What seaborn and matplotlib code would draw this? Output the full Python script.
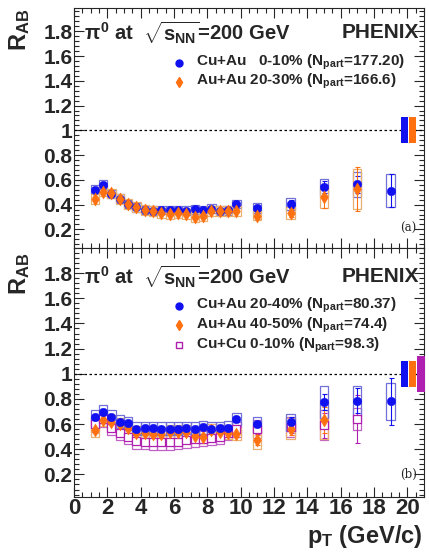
import numpy as np
import pandas as pd
import seaborn as sns
import matplotlib
matplotlib.use('Agg')
import matplotlib.pyplot as plt
from matplotlib.patches import Rectangle
from matplotlib.ticker import MultipleLocator, FixedLocator

# ---- data ----
pt_low = [1.25, 1.75, 2.25, 2.75, 3.25, 3.75, 4.25, 4.75, 5.25, 5.75,
          6.25, 6.75, 7.25, 7.75, 8.25, 8.75, 9.25, 9.75]
pt_high = [11, 13, 15, 17, 19]

# panel (a)
pt_cuau010 = pt_low + pt_high
raa_cuau010 = [0.522, 0.560, 0.485, 0.447, 0.406, 0.378, 0.358, 0.352, 0.356, 0.356,
               0.356, 0.352, 0.362, 0.355, 0.368, 0.352, 0.354, 0.405,
               0.375, 0.405, 0.540, 0.563, 0.514]
stat_cuau010 = [0.01] * 18 + [0.02, 0.03, 0.05, 0.07, 0.13]
sys_cuau010 = [0.035] * 18 + [0.04, 0.045, 0.07, 0.10, 0.13]

pt_auau2030 = pt_low + pt_high[:4]
raa_auau2030 = [0.447, 0.506, 0.490, 0.447, 0.402, 0.380, 0.358, 0.345, 0.330, 0.325,
                0.333, 0.325, 0.298, 0.306, 0.348, 0.345, 0.350, 0.350,
                0.312, 0.332, 0.460, 0.528]
stat_auau2030 = [0.012] * 18 + [0.025, 0.03, 0.09, 0.18]
sys_auau2030 = [0.04] * 18 + [0.04, 0.045, 0.085, 0.16]

# panel (b)
pt_cuau2040 = pt_low + pt_high
raa_cuau2040 = [0.660, 0.700, 0.660, 0.620, 0.605, 0.565, 0.570, 0.570, 0.565, 0.565,
                0.565, 0.570, 0.565, 0.574, 0.565, 0.568, 0.572, 0.640,
                0.597, 0.613, 0.776, 0.786, 0.780]
stat_cuau2040 = [0.015] * 18 + [0.03, 0.04, 0.065, 0.10, 0.19]
sys_cuau2040 = [0.05] * 18 + [0.06, 0.07, 0.13, 0.12, 0.15]

pt_auau4050 = pt_low + pt_high[:3]
raa_auau4050 = [0.550, 0.632, 0.620, 0.597, 0.570, 0.533, 0.533, 0.525, 0.520, 0.540,
                0.540, 0.540, 0.506, 0.500, 0.550, 0.540, 0.533, 0.520,
                0.472, 0.565, 0.632]
stat_auau4050 = [0.02] * 18 + [0.04, 0.05, 0.10]
sys_auau4050 = [0.05] * 18 + [0.07, 0.08, 0.15]

pt_cucu010 = pt_low + pt_high[:4]
raa_cucu010 = [0.600, 0.640, 0.570, 0.530, 0.500, 0.465, 0.460, 0.455, 0.455, 0.455,
               0.460, 0.470, 0.480, 0.485, 0.490, 0.500, 0.530, 0.560,
               0.560, 0.580, 0.590, 0.640]
stat_cucu010 = [0.02] * 18 + [0.04, 0.05, 0.10, 0.19]
sys_cucu010 = [0.06] * 18 + [0.07, 0.08, 0.12, 0.09]

# global normalization uncertainties (drawn at right edge)
norm_a = [0.105, 0.105]
norm_b = [0.105, 0.105, 0.145]

# ---- style ----
sns.set_style('ticks')
plt.rcParams['font.family'] = ['Liberation Sans', 'DejaVu Sans']
plt.rcParams['font.weight'] = 'bold'
plt.rcParams['mathtext.fontset'] = 'custom'
plt.rcParams['mathtext.rm'] = 'Liberation Sans:bold'
plt.rcParams['mathtext.it'] = 'Liberation Sans:bold'
plt.rcParams['mathtext.bf'] = 'Liberation Sans:bold'

BLUE = '#1010f0'
ORANGE = '#ff7010'
PURPLE = '#b020b0'
BLUE_BOX = '#7070d8'
ORANGE_BOX = '#eab070'
PURPLE_BOX = '#c060c8'

fig = plt.figure(figsize=(4.29, 5.56), dpi=100)
ax_a = fig.add_axes([0.1725, 0.554, 0.8155, 0.432])
ax_b = fig.add_axes([0.1725, 0.106, 0.8155, 0.448])


def draw_series(ax, pt, raa, stat, sysu, color, boxcolor, marker, size, filled=True):
    for x, y, s in zip(pt, raa, sysu):
        ax.add_patch(Rectangle((x - 0.25, y - s), 0.5, 2 * s, fill=False,
                               edgecolor=boxcolor, lw=0.9, zorder=2))
    ax.errorbar(pt, raa, yerr=stat, fmt='none', ecolor=color, elinewidth=0.8,
                capsize=1.8, capthick=0.8, zorder=3)
    df = pd.DataFrame({'pt': pt, 'raa': raa})
    if filled:
        sns.scatterplot(data=df, x='pt', y='raa', ax=ax, color=color, marker=marker,
                        s=size, edgecolor=color, linewidth=0.3, zorder=4, legend=False)
    else:
        sns.scatterplot(data=df, x='pt', y='raa', ax=ax, marker=marker, s=size,
                        facecolor='white', edgecolor=color, linewidth=0.9,
                        zorder=4, legend=False)


def style_axis(ax, ylim, show_x):
    ax.set_xlim(0, 21)
    ax.set_ylim(*ylim)
    ax.xaxis.set_major_locator(MultipleLocator(2))
    ax.xaxis.set_minor_locator(MultipleLocator(0.5))
    yt = [0.2, 0.4, 0.6, 0.8, 1.0, 1.2, 1.4, 1.6, 1.8]
    ax.yaxis.set_major_locator(FixedLocator(yt))
    ax.yaxis.set_minor_locator(MultipleLocator(0.04))
    ax.set_yticklabels(['0.2', '0.4', '0.6', '0.8', '1', '1.2', '1.4', '1.6', '1.8'],
                       fontsize=15, fontweight='bold')
    ax.tick_params(which='both', direction='in', top=True, right=True, width=0.8)
    ax.tick_params(which='major', length=7, pad=1)
    ax.tick_params(which='minor', length=3.5)
    ax.tick_params(axis='x', labelsize=16)
    if not show_x:
        ax.set_xticklabels([])
    ax.set_xlabel('')
    ax.set_ylabel('')
    for sp in ax.spines.values():
        sp.set_linewidth(0.8)
    ax.axhline(1.0, color='black', ls=(0, (2, 2)), lw=0.9, zorder=1)


def norm_boxes(ax, halves, colors):
    for i, (h, c) in enumerate(zip(halves, colors)):
        ax.add_patch(Rectangle((19.6 + 0.5 * i, 1 - h), 0.45, 2 * h, color=c,
                               clip_on=False, zorder=5, lw=0))


# panel (a)
draw_series(ax_a, pt_cuau010, raa_cuau010, stat_cuau010, sys_cuau010,
            BLUE, BLUE_BOX, 'o', 38)
draw_series(ax_a, pt_auau2030, raa_auau2030, stat_auau2030, sys_auau2030,
            ORANGE, ORANGE_BOX, 'd', 45)
style_axis(ax_a, (0.05, 1.99), False)
norm_boxes(ax_a, norm_a, [BLUE, ORANGE])

# panel (b)
draw_series(ax_b, pt_cucu010, raa_cucu010, stat_cucu010, sys_cucu010,
            PURPLE, PURPLE_BOX, 's', 26, filled=False)
draw_series(ax_b, pt_auau4050, raa_auau4050, stat_auau4050, sys_auau4050,
            ORANGE, ORANGE_BOX, 'd', 45)
draw_series(ax_b, pt_cuau2040, raa_cuau2040, stat_cuau2040, sys_cuau2040,
            BLUE, BLUE_BOX, 'o', 38)
style_axis(ax_b, (0.02, 2.0), True)
norm_boxes(ax_b, norm_b, [BLUE, ORANGE, PURPLE])

# texts
title = r'$\pi^{0}$ at  $\sqrt{s_{NN}}$=200 GeV'
for ax, ytit in [(ax_a, 0.897), (ax_b, 0.885)]:
    ax.text(0.03, ytit, title, transform=ax.transAxes, fontsize=14.5,
            fontweight='bold', va='center', ha='left')
    ax.text(0.985, ytit, 'PHENIX', transform=ax.transAxes, fontsize=15,
            fontweight='bold', va='center', ha='right')

leg_a = [('o', BLUE, True, r'Cu+Au   0-10% (N$_{\rm part}$=177.20)'),
         ('d', ORANGE, True, r'Au+Au 20-30% (N$_{\rm part}$=166.6)')]
leg_b = [('o', BLUE, True, r'Cu+Au 20-40% (N$_{\rm part}$=80.37)'),
         ('d', ORANGE, True, r'Au+Au 40-50% (N$_{\rm part}$=74.4)'),
         ('s', PURPLE, False, r'Cu+Cu 0-10% (N$_{\rm part}$=98.3)')]

for ax, entries, y0 in [(ax_a, leg_a, 0.772), (ax_b, leg_b, 0.768)]:
    for k, (m, c, filled, lab) in enumerate(entries):
        yy = y0 - k * 0.079
        ax.plot([0.30], [yy], transform=ax.transAxes, marker=m, ms=5,
                color=c, mfc=c if filled else 'white', mec=c, ls='none', clip_on=False)
        ax.text(0.35, yy, lab, transform=ax.transAxes, fontsize=11,
                fontweight='bold', va='center', ha='left')

ax_a.text(0.955, 0.08, '(a)', transform=ax_a.transAxes, fontsize=8.5,
          family='DejaVu Serif', fontweight='normal', ha='center', va='center')
ax_b.text(0.955, 0.09, '(b)', transform=ax_b.transAxes, fontsize=8.5,
          family='DejaVu Serif', fontweight='normal', ha='center', va='center')

fig.text(0.045, 0.985, r'R$_{\rm AB}$', rotation=90, fontsize=17, fontweight='bold',
         ha='center', va='top')
fig.text(0.045, 0.545, r'R$_{\rm AB}$', rotation=90, fontsize=17, fontweight='bold',
         ha='center', va='top')
fig.text(0.985, 0.035, r'p$_{\rm T}$ (GeV/c)', fontsize=17, fontweight='bold',
         ha='right', va='center')

fig.savefig('out.png', dpi=100)
